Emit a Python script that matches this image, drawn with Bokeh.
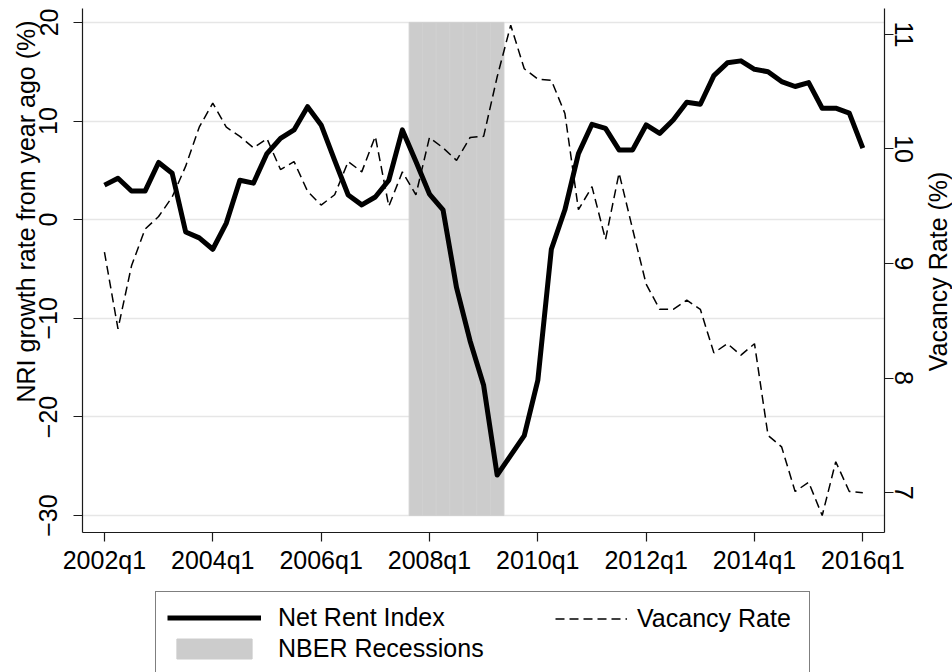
import math
from bokeh.plotting import figure
from bokeh.layouts import column, row
from bokeh.models import Range1d, LinearAxis, FixedTicker, Legend, LegendItem, Label
from bokeh.embed import file_html
from bokeh.resources import INLINE

# ---------------- data ----------------
first_quarter = "2002q1"
nri = [3.5, 4.2, 2.9, 2.9, 5.8, 4.7, -1.25, -1.85, -3.0, -0.35,
       4.0, 3.7, 6.7, 8.25, 9.1, 11.45, 9.6, 6.0, 2.5, 1.5,
       2.3, 4.0, 9.1, 5.9, 2.6, 1.0, -6.9, -12.3, -16.8, -25.9,
       -23.9, -21.9, -16.3, -3.0, 1.0, 6.7, 9.67, 9.26, 7.07, 7.07,
       9.6, 8.75, 10.1, 11.9, 11.7, 14.6, 15.9, 16.1, 15.25, 15.0,
       14.0, 13.5, 13.9, 11.3, 11.3, 10.8, 7.25]
vacancy = [9.10, 8.43, 8.98, 9.30, 9.41, 9.58, 9.85, 10.19, 10.40, 10.19,
           10.11, 10.01, 10.09, 9.82, 9.89, 9.63, 9.51, 9.60, 9.89, 9.80,
           10.11, 9.50, 9.80, 9.60, 10.10, 10.01, 9.90, 10.10, 10.11, 10.63,
           11.08, 10.70, 10.61, 10.60, 10.31, 9.47, 9.67, 9.21, 9.79, 9.30,
           8.82, 8.60, 8.60, 8.68, 8.60, 8.22, 8.30, 8.20, 8.30, 7.50,
           7.40, 7.01, 7.09, 6.80, 7.27, 7.01, 7.00]
recession_quarters = ["2007q4", "2008q1", "2008q2", "2008q3", "2008q4", "2009q1", "2009q2"]
recession_bottom = -30
recession_top = 20
x_tick_labels = ["2002q1", "2004q1", "2006q1", "2008q1", "2010q1", "2012q1", "2014q1", "2016q1"]
left_ticks = [-30, -20, -10, 0, 10, 20]
right_ticks = [7, 8, 9, 10, 11]
left_title = "NRI growth rate from year ago (%)"
right_title = "Vacancy Rate (%)"
legend_labels = ["Net Rent Index", "Vacancy Rate", "NBER Recessions"]


def qindex(label):
    y, q = label.split("q")
    y0, q0 = first_quarter.split("q")
    return (int(y) - int(y0)) * 4 + (int(q) - int(q0))


x = list(range(len(nri)))
rec_x = [qindex(q) for q in recession_quarters]
x_ticks = [qindex(t) for t in x_tick_labels]

FONT = "Liberation Sans"
FS = "25px"
NBSP = "\u00a0"
REC_FILL = "#cccccc"
REC_LINE = "#d0d0d0"

RT_W = 29
TOP_H = 576

# ---------------- main plot ----------------
p = figure(width=952 - RT_W, height=TOP_H,
           x_range=Range1d(-1.62, 57.6), y_range=Range1d(-31.72, 21.41),
           output_backend="svg", toolbar_location=None,
           min_border_left=82, min_border_right=39, min_border_top=8, min_border_bottom=42,
           background_fill_color="white", border_fill_color="white",
           outline_line_color=None)
p.extra_y_ranges = {"vac": Range1d(6.652, 11.226)}

p.vbar(x=rec_x, width=1, bottom=recession_bottom, top=recession_top,
       fill_color=REC_FILL, line_color=REC_LINE, line_width=1)
p.line(x, nri, line_width=5, line_color="black", line_join="round")
p.line(x, vacancy, y_range_name="vac", line_width=1.5, line_color="black",
       line_dash="9 5")

p.xgrid.visible = False
p.ygrid.ticker = FixedTicker(ticks=left_ticks)
p.ygrid.grid_line_color = "#e6e6e6"
p.ygrid.grid_line_width = 1.5


def style_axis(ax):
    ax.axis_line_color = "#1a1a1a"
    ax.axis_line_width = 1.2
    ax.major_tick_line_color = "#1a1a1a"
    ax.major_tick_line_width = 1.2
    ax.major_tick_out = 9
    ax.major_tick_in = 0
    ax.minor_tick_line_color = None
    ax.major_label_text_font = FONT
    ax.major_label_text_font_size = FS
    ax.major_label_text_color = "black"
    ax.axis_label_text_font = FONT
    ax.axis_label_text_font_size = FS
    ax.axis_label_text_font_style = "normal"
    ax.axis_label_text_color = "black"


xa = p.xaxis[0]
style_axis(xa)
xa.ticker = FixedTicker(ticks=x_ticks)
xa.major_label_overrides = {t: lab for t, lab in zip(x_ticks, x_tick_labels)}
xa.major_label_standoff = 4

ya = p.yaxis[0]
style_axis(ya)
ya.ticker = FixedTicker(ticks=left_ticks)
ya.major_label_orientation = "vertical"
ya.major_label_standoff = 16
# leading no-break spaces lift the title towards the top of the axis (as in the original)
ya.axis_label = NBSP * 17 + left_title
ya.axis_label_standoff = -3

ra = LinearAxis(y_range_name="vac", ticker=FixedTicker(ticks=right_ticks))
style_axis(ra)
ra.major_label_orientation = "vertical"
ra.major_label_standoff = 1
p.add_layout(ra, "right")

# ---------------- right axis title (rotated, reading upwards) ----------------
rt = figure(width=RT_W, height=TOP_H, x_range=Range1d(0, RT_W), y_range=p.y_range,
            x_axis_type=None, y_axis_type=None, output_backend="svg",
            toolbar_location=None, min_border=0, outline_line_color=None,
            background_fill_color="white", border_fill_color="white")
rt.add_layout(Label(x=14.5, y=-5.25, text=right_title, angle=math.pi / 2,
                    text_align="center", text_baseline="middle",
                    text_font=FONT, text_font_size=FS, text_color="black"))

# ---------------- legend (Stata style box below the plot) ----------------
lf = figure(width=952, height=672 - TOP_H, x_axis_type=None, y_axis_type=None,
            x_range=Range1d(-1000, -999), y_range=Range1d(-1000, -999),
            output_backend="svg", toolbar_location=None,
            min_border=0, outline_line_color=None,
            background_fill_color="white", border_fill_color="white")
# legend keys re-use the same series (kept outside the visible range of this strip)
k_nri = lf.line(x, nri, line_width=5, line_color="black")
k_vac = lf.line(x, vacancy, line_width=1.5, line_color="black", line_dash="9 5")
k_rec = lf.vbar(x=rec_x, width=1, bottom=recession_bottom, top=recession_top,
                fill_color=REC_FILL, line_color=REC_FILL)

leg1 = Legend(items=[LegendItem(label=legend_labels[0], renderers=[k_nri]),
                     LegendItem(label=legend_labels[2], renderers=[k_rec])],
              location=(155, -3), orientation="vertical",
              glyph_width=94, glyph_height=25, label_standoff=17,
              label_width=520, label_height=25, padding=11, spacing=2, margin=0,
              border_line_color="black", border_line_width=1,
              background_fill_color="white", background_fill_alpha=1.0,
              label_text_font=FONT, label_text_font_size=FS, label_text_color="black")
leg2 = Legend(items=[LegendItem(label=legend_labels[1], renderers=[k_vac])],
              location=(555, 39), orientation="vertical",
              glyph_width=72, glyph_height=25, label_standoff=10,
              label_height=25, padding=0, spacing=0, margin=0,
              border_line_color=None, background_fill_alpha=0.0,
              label_text_font=FONT, label_text_font_size=FS, label_text_color="black")
lf.add_layout(leg1, "center")
lf.add_layout(leg2, "center")

layout = column(row(p, rt, spacing=0), lf, spacing=0)
open("out.html", "w").write(file_html(layout, INLINE))
